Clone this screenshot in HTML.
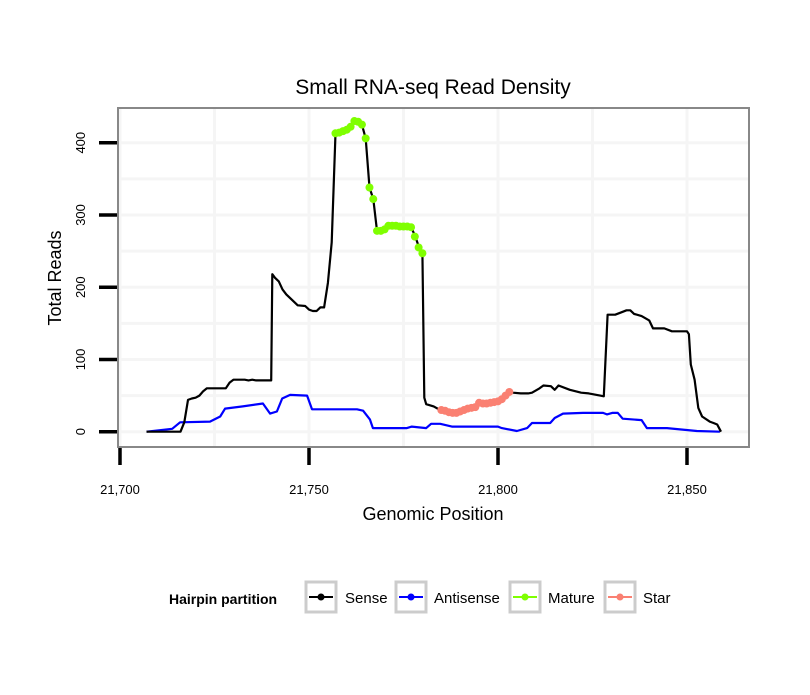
<!DOCTYPE html>
<html><head><meta charset="utf-8"><style>
html,body{margin:0;padding:0;background:#fff;}
svg text{font-family:"Liberation Sans",sans-serif;}
</style></head><body>
<svg id="chart" width="810" height="690" viewBox="0 0 810 690" xmlns="http://www.w3.org/2000/svg">
<rect x="0" y="0" width="810" height="690" fill="#fff"/>
<text x="433" y="94" font-size="21" text-anchor="middle">Small RNA-seq Read Density</text>
<g id="grid"></g>
<g id="series"></g>
<rect x="118" y="108" width="631" height="339" fill="none" stroke="#888" stroke-width="2"/>
<g id="axes"></g>
<text x="433" y="520" font-size="18" text-anchor="middle">Genomic Position</text>
<text transform="translate(61,278) rotate(-90)" font-size="18" text-anchor="middle">Total Reads</text>
<g>
<text x="169" y="604" font-size="14" font-weight="bold">Hairpin partition</text>
<g>
<rect x="306" y="582" width="30" height="30" fill="#fff" stroke="#ccc" stroke-width="3"/>
<line x1="309" y1="597" x2="333" y2="597" stroke="#000" stroke-width="2"/><circle cx="321" cy="597" r="3.5" fill="#000"/>
<text x="345" y="603" font-size="15">Sense</text></g>
<g>
<rect x="396" y="582" width="30" height="30" fill="#fff" stroke="#ccc" stroke-width="3"/>
<line x1="399" y1="597" x2="423" y2="597" stroke="#00f" stroke-width="2"/><circle cx="411" cy="597" r="3.5" fill="#00f"/>
<text x="434" y="603" font-size="15">Antisense</text></g>
<g>
<rect x="510" y="582" width="30" height="30" fill="#fff" stroke="#ccc" stroke-width="3"/>
<line x1="513" y1="597" x2="537" y2="597" stroke="#7fff00" stroke-width="2"/><circle cx="525" cy="597" r="3.5" fill="#7fff00"/>
<text x="548" y="603" font-size="15">Mature</text></g>
<g>
<rect x="605" y="582" width="30" height="30" fill="#fff" stroke="#ccc" stroke-width="3"/>
<line x1="608" y1="597" x2="632" y2="597" stroke="#fa8072" stroke-width="2"/><circle cx="620" cy="597" r="3.5" fill="#fa8072"/>
<text x="643" y="603" font-size="15">Star</text></g>
</g>
</svg>
<script>
const xTicks=[21700,21750,21800,21850];
const xTickLabels=["21,700","21,750","21,800","21,850"];
const yTicks=[0,100,200,300,400];
const yTickLabels=["0","100","200","300","400"];
const xMinor=[21725,21775,21825];
const yMinor=[50,150,250,350];
const senseX=[21707,21716,21717,21718,21719,21720,21721,21722,21723,21728,21729,21730,21733,21734,21735,21736,21737,21740,21740.3,21741,21742,21743,21744,21747,21749,21750,21751,21752,21753,21754,21755,21756,21757,21758,21760,21761,21762,21763,21764,21765,21766,21767,21768,21769,21770,21771,21773,21777,21778,21779,21780,21780.5,21781,21783,21784,21785,21786,21787,21788,21789,21790,21791,21792,21793,21794,21795,21796,21797,21798,21799,21800,21801,21802,21803,21804,21806,21808,21809,21811,21812,21814,21815,21816,21819,21822,21824,21827,21828,21829,21831,21833,21834,21835,21836,21838,21840,21841,21844,21846,21850,21850.5,21851,21852,21853,21854,21856,21857,21858,21859];
const senseY=[0,0,13,44,46,47,50,56,60,60,68,72,72,71,72,71,71,71,218,213,208,197,190,175,174,169,167,167,172,172,206,262,413,415,418,422,430,428,425,406,338,322,278,278,281,285,285,283,272,257,248,47,38,35,32,30,29,27,26,26,28,30,32,33,34,40,39,39,40,41,42,45,50,55,54,53,53,54,60,64,63,58,64,58,54,53,50,49,162,162,166,168,168,163,160,154,143,143,139,139,135,93,72,33,21,14,12,10,0];
const antiX=[21707,21713.8,21715.9,21723.8,21726.5,21727.8,21732.5,21737.8,21739.7,21741.5,21742.9,21745,21749.5,21750.8,21762.7,21764.3,21766.1,21766.9,21775.9,21777.2,21781,21782.3,21784.7,21787.8,21800,21801,21805,21807.7,21809,21813.8,21815,21817.2,21822.5,21827.8,21828.8,21830.2,21831.7,21833,21838,21839.4,21844.7,21852.6,21858.7];
const antiY=[0,4,13,14,21,32,35,39,25,28,46,51,50,31,31,29,17,5,5,7,5,11,11,7,7,5,1,5,12,12,19,25,26,26,24,26,26,18,16,5,5,1,0];
const matureX=[21757,21758,21759,21760,21761,21762,21763,21764,21765,21766,21767,21768,21769,21770,21771,21772,21773,21774,21775,21776,21777,21778,21779,21780];
const matureY=[413,414,416,418,422,430,429,425,406,338,322,278,278,280,285,285,285,284,284,284,283,270,255,247];
const starX=[21785,21786,21787,21788,21789,21790,21791,21792,21793,21794,21795,21796,21797,21798,21799,21800,21801,21802,21803];
const starY=[30,29,27,26,26,28,30,32,33,34,40,39,39,40,41,42,45,50,55];

const NS="http://www.w3.org/2000/svg";
function sx(v){return 120+(v-21700)*3.78;}
function sy(v){return 431.7-v*0.7225;}
function mk(tag,attrs,parent){const e=document.createElementNS(NS,tag);for(const k in attrs)e.setAttribute(k,attrs[k]);parent.appendChild(e);return e;}
const grid=document.getElementById('grid'),series=document.getElementById('series'),axes=document.getElementById('axes');
xMinor.concat(xTicks).forEach(v=>{const l=mk('line',{x1:sx(v),x2:sx(v),y1:109,y2:446,stroke:'#f5f5f5','stroke-width':3},grid);

});
yMinor.concat(yTicks).forEach(v=>{const l=mk('line',{x1:119,x2:748,y1:sy(v),y2:sy(v),stroke:'#f5f5f5','stroke-width':3},grid);

});
function line(xs,ys,color,name){const d=xs.map((x,i)=>(i?'L':'M')+sx(x).toFixed(1)+','+sy(ys[i]).toFixed(1)).join('');
const p=mk('path',{d:d,fill:'none',stroke:color,'stroke-width':2.2,'stroke-linejoin':'round'},series);

}
function pts(xs,ys,color,name){xs.forEach((x,i)=>{const c=mk('circle',{cx:sx(x),cy:sy(ys[i]),r:4,fill:color},series);

});}
line(antiX,antiY,'#0000ff','antisense-line');
line(senseX,senseY,'#000000','sense-line');
pts(matureX,matureY,'#7fff00','mature-point');
pts(starX,starY,'#fa8072','star-point');
xTicks.forEach((v,i)=>{const t=mk('line',{x1:sx(v),x2:sx(v),y1:448,y2:465,stroke:'#000','stroke-width':3.5},axes);


const tx=mk('text',{x:sx(v),y:494,'font-size':13,'text-anchor':'middle'},axes);tx.textContent=xTickLabels[i];

});
yTicks.forEach((v,i)=>{const t=mk('line',{x1:99,x2:117,y1:sy(v),y2:sy(v),stroke:'#000','stroke-width':3.5},axes);


const tx=mk('text',{transform:'translate(85,'+sy(v)+') rotate(-90)','font-size':13,'text-anchor':'middle'},axes);tx.textContent=yTickLabels[i];

});
</script>
</body></html>
